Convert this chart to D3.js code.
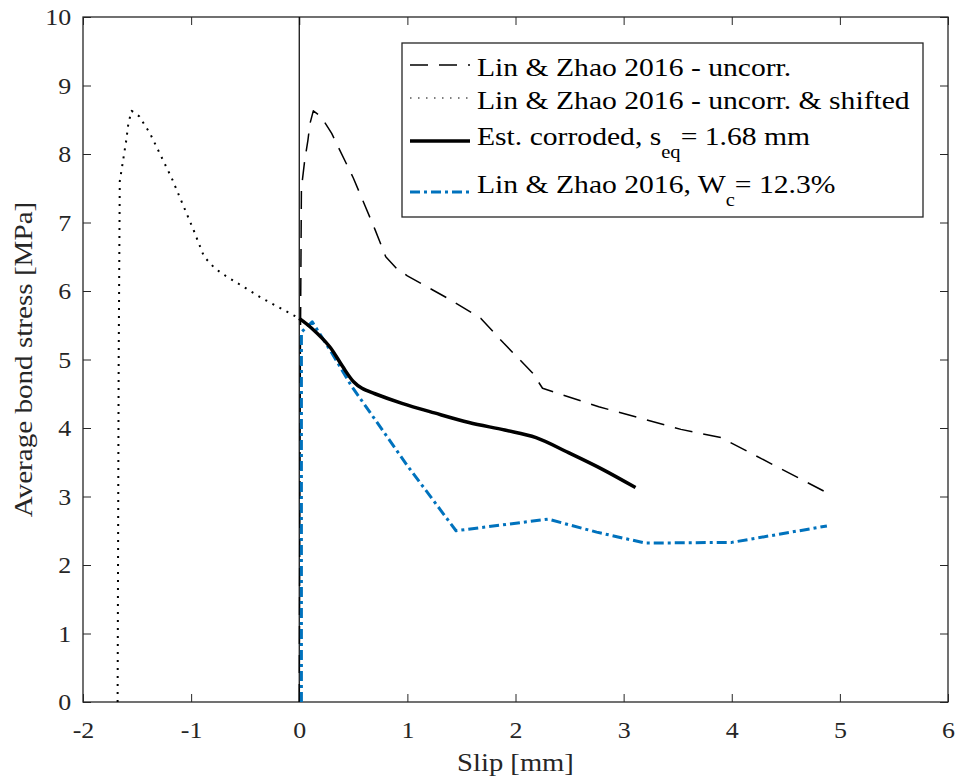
<!DOCTYPE html>
<html>
<head>
<meta charset="utf-8">
<script src="https://cdn.jsdelivr.net/npm/d3@7"></script>
<style>
  html, body { margin: 0; padding: 0; background: #fff; }
  svg text { font-family: "Liberation Serif", Tinos, "Times New Roman", Times, "Nimbus Roman", "DejaVu Serif", serif !important; }
</style>
</head>
<body>
<svg id="chart" width="956" height="782"></svg>
<script>
// ---- data ----
const xTicks = [-2, -1, 0, 1, 2, 3, 4, 5, 6];
const yTicks = [0, 1, 2, 3, 4, 5, 6, 7, 8, 9, 10];

const uncorrX = [0, 0.01, 0.02, 0.05, 0.08, 0.10, 0.13, 0.20, 0.30, 0.50, 0.70, 0.80, 0.90, 1.00, 1.40, 1.68, 1.89, 2.16, 2.25, 2.77, 3.53, 3.90, 4.85];
const uncorrY = [0, 5.0, 7.5, 7.9, 8.2, 8.45, 8.63, 8.55, 8.30, 7.65, 6.90, 6.50, 6.33, 6.22, 5.87, 5.60, 5.24, 4.80, 4.58, 4.31, 3.98, 3.86, 3.08];

const shiftX = [-1.68, -1.67, -1.66, -1.63, -1.60, -1.58, -1.55, -1.48, -1.38, -1.18, -0.98, -0.88, -0.78, -0.68, -0.35, 0];
const shiftY = [0, 5.0, 7.6, 7.9, 8.2, 8.45, 8.63, 8.55, 8.30, 7.65, 6.90, 6.50, 6.33, 6.22, 5.90, 5.60];

const corrX = [0, 0.12, 0.28, 0.40, 0.50, 0.58, 0.70, 0.95, 1.25, 1.57, 1.90, 2.19, 2.49, 2.80, 3.11];
const corrY = [5.6, 5.45, 5.19, 4.90, 4.68, 4.58, 4.50, 4.36, 4.22, 4.08, 3.97, 3.86, 3.64, 3.40, 3.13];

const wcX = [0.02, 0.02, 0.12, 0.30, 0.48, 1.00, 1.45, 2.30, 2.75, 3.20, 4.00, 4.88];
const wcY = [0, 5.40, 5.55, 5.10, 4.62, 3.45, 2.50, 2.67, 2.48, 2.32, 2.33, 2.57];

const legendLabels = [
  {main: "Lin & Zhao 2016 - uncorr."},
  {main: "Lin & Zhao 2016 - uncorr. & shifted"},
  {main: "Est. corroded, s", sub: "eq", rest: "= 1.68 mm"},
  {main: "Lin & Zhao 2016, W", sub: "c", rest: "= 12.3%"}
];

// ---- layout ----
const W = 956, H = 782;
const margin = {left: 83, top: 17, right: 8, bottom: 80};
const iw = W - margin.left - margin.right;
const ih = H - margin.top - margin.bottom;
const axisColor = "#262626";
const serif = "'Liberation Serif', Tinos, 'Times New Roman', Times, 'DejaVu Serif', serif";

const svg = d3.select("#chart");
const g = svg.append("g").attr("transform", `translate(${margin.left},${margin.top})`);

const x = d3.scaleLinear().domain([-2, 6]).range([0, iw]);
const y = d3.scaleLinear().domain([0, 10]).range([ih, 0]);

const fmt = d => String(d);

// axes (ticks inward)
const xAxis = g.append("g").attr("transform", `translate(0,${ih})`)
  .call(d3.axisBottom(x).tickValues(xTicks).tickFormat(fmt).tickSize(-8).tickPadding(19));
const yAxis = g.append("g")
  .call(d3.axisLeft(y).tickValues(yTicks).tickFormat(fmt).tickSize(-8).tickPadding(11));
const xTop = g.append("g")
  .call(d3.axisTop(x).tickValues(xTicks).tickFormat("").tickSize(-8));
const yRight = g.append("g").attr("transform", `translate(${iw},0)`)
  .call(d3.axisRight(y).tickValues(yTicks).tickFormat("").tickSize(-8));

[xAxis, yAxis, xTop, yRight].forEach(a => {
  a.attr("font-family", serif);
  a.select(".domain").remove();
  a.selectAll(".tick line").attr("stroke", axisColor).attr("stroke-width", 1);
  a.selectAll(".tick text").attr("fill", axisColor)
    .style("font-family", serif)
    .style("font-size", "24px")
    .attr("transform", "scale(1.08,1)");
});

// frame
g.append("rect").attr("x", 0).attr("y", 0).attr("width", iw).attr("height", ih)
  .attr("fill", "none").attr("stroke", axisColor).attr("stroke-width", 1.3);

// vertical line at x = 0
g.append("line").attr("x1", x(0)).attr("x2", x(0)).attr("y1", y(0)).attr("y2", y(10))
  .attr("stroke", "#000").attr("stroke-width", 1.2);

const line = d3.line().x(d => x(d[0])).y(d => y(d[1]));
const smooth = d3.line().x(d => x(d[0])).y(d => y(d[1])).curve(d3.curveCatmullRom.alpha(0.5));
const zip = (xs, ys) => xs.map((v, i) => [v, ys[i]]);

const styles = [
  {data: zip(uncorrX, uncorrY), color: "#000", width: 1.5, dash: "18,11", gen: line},
  {data: zip(shiftX, shiftY), color: "#000", width: 2, dash: "2,6", gen: line},
  {data: zip(wcX, wcY), color: "#0072BD", width: 3, dash: "10,4,3,4", gen: line},
  {data: zip(corrX, corrY), color: "#000", width: 3.5, dash: null, gen: smooth}
];
styles.forEach(s => {
  g.append("path").datum(s.data).attr("d", s.gen)
    .attr("fill", "none").attr("stroke", s.color).attr("stroke-width", s.width)
    .attr("stroke-dasharray", s.dash).attr("stroke-linejoin", "round");
});

// axis labels
svg.append("text")
  .attr("transform", `translate(${margin.left + x(2)},771) scale(1.1,1)`)
  .attr("text-anchor", "middle").attr("fill", axisColor)
  .style("font-family", serif).style("font-size", "26px")
  .text("Slip [mm]");
svg.append("text")
  .attr("transform", `translate(32,${margin.top + ih / 2}) rotate(-90) scale(1.12,1)`)
  .attr("text-anchor", "middle").attr("fill", axisColor)
  .style("font-family", serif).style("font-size", "26px")
  .text("Average bond stress [MPa]");

// legend
const lg = svg.append("g");
lg.append("rect").attr("x", 402).attr("y", 43).attr("width", 521).attr("height", 174)
  .attr("fill", "#fff").attr("stroke", axisColor).attr("stroke-width", 1.3);

const legendStyles = [
  {color: "#000", width: 1.5, dash: "18,11"},
  {color: "#000", width: 1.2, dash: "1.5,6.5"},
  {color: "#000", width: 3.5, dash: null},
  {color: "#0072BD", width: 3, dash: "10,4,3,4"}
];
const rowBase = [76, 109, 145, 193];
const rowLine = [65, 98, 141, 192];
legendLabels.forEach((lab, i) => {
  const st = legendStyles[i];
  lg.append("line").attr("x1", 410).attr("x2", 470).attr("y1", rowLine[i]).attr("y2", rowLine[i])
    .attr("stroke", st.color).attr("stroke-width", st.width).attr("stroke-dasharray", st.dash);
  const t = lg.append("text")
    .attr("transform", `translate(477,${rowBase[i]}) scale(1.14,1)`)
    .attr("fill", "#000")
    .style("font-family", serif).style("font-size", "26px");
  t.append("tspan").text(lab.main);
  if (lab.sub) {
    t.append("tspan").attr("dy", 13).style("font-size", "18px").text(lab.sub);
    t.append("tspan").attr("dy", -13).text(lab.rest);
  }
});
</script>
</body>
</html>
